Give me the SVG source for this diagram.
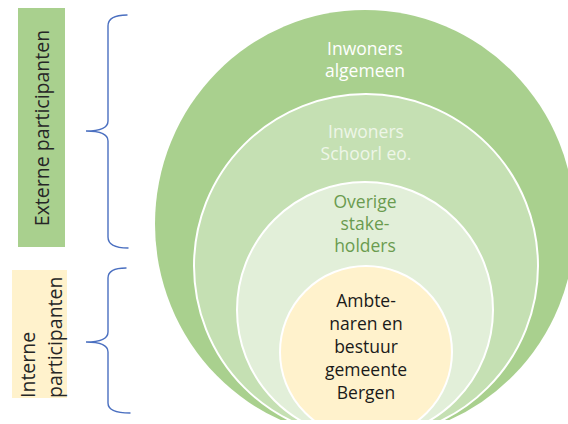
<svg xmlns="http://www.w3.org/2000/svg" width="568" height="424" viewBox="0 0 568 424">
  <defs>
    <clipPath id="crop">
      <rect x="0" y="0" width="568" height="420"/>
    </clipPath>
  </defs>
  <style>
    text { font-family: "Open Sans", "Noto Sans", "Liberation Sans", sans-serif; font-size: 17.5px; }
    .ring { stroke: #FFFFFF; stroke-width: 2; }
    .mid { text-anchor: middle; }
    .side { font-size: 19.5px; fill: #262626; }
    .brace { fill: none; stroke: #4A6FC0; stroke-width: 1.4; stroke-linecap: round; }
  </style>
  <rect width="568" height="424" fill="#FFFFFF"/>

  <g clip-path="url(#crop)">
    <g id="inwoners-algemeen">
      <ellipse cx="365" cy="224" rx="210" ry="214" fill="#A9D08E"/>
      <text class="mid" x="365" y="55" fill="#FFFFFF">Inwoners</text>
      <text class="mid" x="365" y="77" fill="#FFFFFF">algemeen</text>
    </g>
    <g id="inwoners-schoorl">
      <circle class="ring" cx="366" cy="266" r="172" fill="#C5E0B3"/>
      <text class="mid" x="366" y="138" fill="#EEF6E8">Inwoners</text>
      <text class="mid" x="366" y="160" fill="#EEF6E8">Schoorl eo.</text>
    </g>
    <g id="overige-stakeholders">
      <circle class="ring" cx="365" cy="310" r="128" fill="#E2EFD9"/>
      <text class="mid" x="365" y="208" fill="#6A9B4F">Overige</text>
      <text class="mid" x="365" y="230" fill="#6A9B4F">stake-</text>
      <text class="mid" x="365" y="252" fill="#6A9B4F">holders</text>
    </g>
    <g id="ambtenaren">
      <circle class="ring" cx="366" cy="352" r="86" fill="#FFF2CC"/>
      <text class="mid" x="366" y="307" fill="#1A1A1A">Ambte-</text>
      <text class="mid" x="366" y="330" fill="#1A1A1A">naren en</text>
      <text class="mid" x="366" y="353" fill="#1A1A1A">bestuur</text>
      <text class="mid" x="366" y="376" fill="#1A1A1A">gemeente</text>
      <text class="mid" x="366" y="399" fill="#1A1A1A">Bergen</text>
    </g>
  </g>

  <g id="externe-participanten">
    <rect x="18" y="8" width="47" height="239" fill="#A9D08E"/>
    <text class="side mid" transform="translate(49,128) rotate(-90)">Externe participanten</text>
  </g>
  <g id="interne-participanten">
    <rect x="12" y="270" width="55" height="128" fill="#FFF2CC"/>
    <text class="side" transform="translate(35,398) rotate(-90)">Interne</text>
    <text class="side" transform="translate(62,398) rotate(-90)">participanten</text>
  </g>

  <g id="connectors">
    <path class="brace" d="M127,15 Q108,15 108,26 L108,121 Q108,131 86,131 Q108,131 108,141 L108,237 Q108,248 128,248"/>
    <path class="brace" d="M126,268 Q108,268 108,278 L108,332 Q108,342 86,342 Q108,342 108,352 L108,403 Q108,413 130,413"/>
  </g>
</svg>
